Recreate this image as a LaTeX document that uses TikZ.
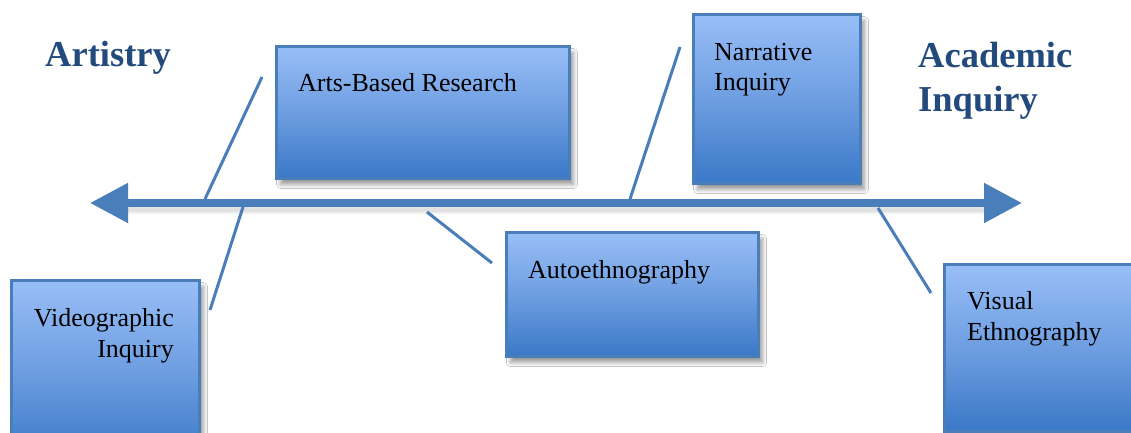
\documentclass[tikz,border=0pt]{standalone}
\usepackage{fontspec}
\setmainfont{Liberation Serif}
\usetikzlibrary{arrows.meta,shadows.blur}
\definecolor{linecol}{RGB}{74,126,187}
\definecolor{boxtop}{RGB}{152,190,247}
\definecolor{boxmid}{RGB}{110,158,225}
\definecolor{boxbot}{RGB}{58,120,199}
\definecolor{titlecol}{RGB}{35,74,125}
\tikzset{
  box/.style={draw=linecol, line width=3pt, rectangle, inner sep=0pt,
    top color=boxtop, bottom color=boxbot, middle color=boxmid,
    blur shadow={shadow xshift=4pt, shadow yshift=-6pt, shadow blur radius=4pt, shadow blur steps=8, shadow opacity=40}},
  boxtext/.style={font=\fontsize{26}{30}\selectfont, inner sep=0pt, text=black},
  title/.style={font=\fontsize{36.5}{44}\selectfont\bfseries, inner sep=0pt, text=titlecol},
  spoke/.style={draw=linecol, line width=3pt},
  axis/.style={draw=linecol, line width=8pt,
    {Triangle[length=38pt,width=38pt]}-{Triangle[length=38pt,width=38pt]}}
}
\begin{document}
\begin{tikzpicture}[x=1pt,y=-1pt]
\clip (0,0) rectangle (1131,433);
\fill[white] (0,0) rectangle (1131,433);
% spokes endpoints
\coordinate (a1) at (205,199); \coordinate (a2) at (262,77);
\coordinate (v1) at (243,207); \coordinate (v2) at (210,310);
\coordinate (n1) at (630,199); \coordinate (n2) at (680,47);
\coordinate (u1) at (427,212); \coordinate (u2) at (492,263);
\coordinate (e1) at (878,208); \coordinate (e2) at (931,293);
\coordinate (L) at (90,203); \coordinate (R) at (1022,203);
% axis shadow
\draw[line width=10pt, black, opacity=0.06] (125,209) -- (990,209);
\draw[line width=6pt, black, opacity=0.06] (125,209) -- (990,209);
\draw[spoke] (a1) -- (a2);
\draw[spoke] (v1) -- (v2);
\draw[spoke] (n1) -- (n2);
\draw[spoke] (u1) -- (u2);
\draw[spoke] (e1) -- (e2);
\draw[axis] (L) -- (R);
% boxes
\node[box, anchor=north west, minimum width=293pt, minimum height=132pt] (abr) at (275,45) {};
\node[box, anchor=north west, minimum width=167pt, minimum height=169pt] (nar) at (692,13) {};
\node[box, anchor=north west, minimum width=252pt, minimum height=124pt] (aut) at (505,231) {};
\node[box, anchor=north west, minimum width=200pt, minimum height=167pt] (vis) at (943,263) {};
\node[box, anchor=north west, minimum width=188pt, minimum height=180pt] (vid) at (10,279) {};
% texts
\node[boxtext, anchor=base west] (tabr) at (298,92) {Arts-Based Research};
\node[boxtext, anchor=base west] (tnar1) at (714,61) {Narrative};
\node[boxtext, anchor=base west] (tnar2) at (714,91) {Inquiry};
\node[boxtext, anchor=base west] (taut) at (528,278) {Autoethnography};
\node[boxtext, anchor=base west] (tvis1) at (967,309) {Visual};
\node[boxtext, anchor=base west] (tvis2) at (967,340) {Ethnography};
\node[boxtext, anchor=base east] (tvid1) at (174,326) {Videographic};
\node[boxtext, anchor=base east] (tvid2) at (174,357) {Inquiry};
\node[title, anchor=base west] (art) at (45,67) {Artistry};
\node[title, anchor=base west] (aca1) at (918,68) {Academic};
\node[title, anchor=base west] (aca2) at (918,112) {Inquiry};
\end{tikzpicture}
\end{document}
